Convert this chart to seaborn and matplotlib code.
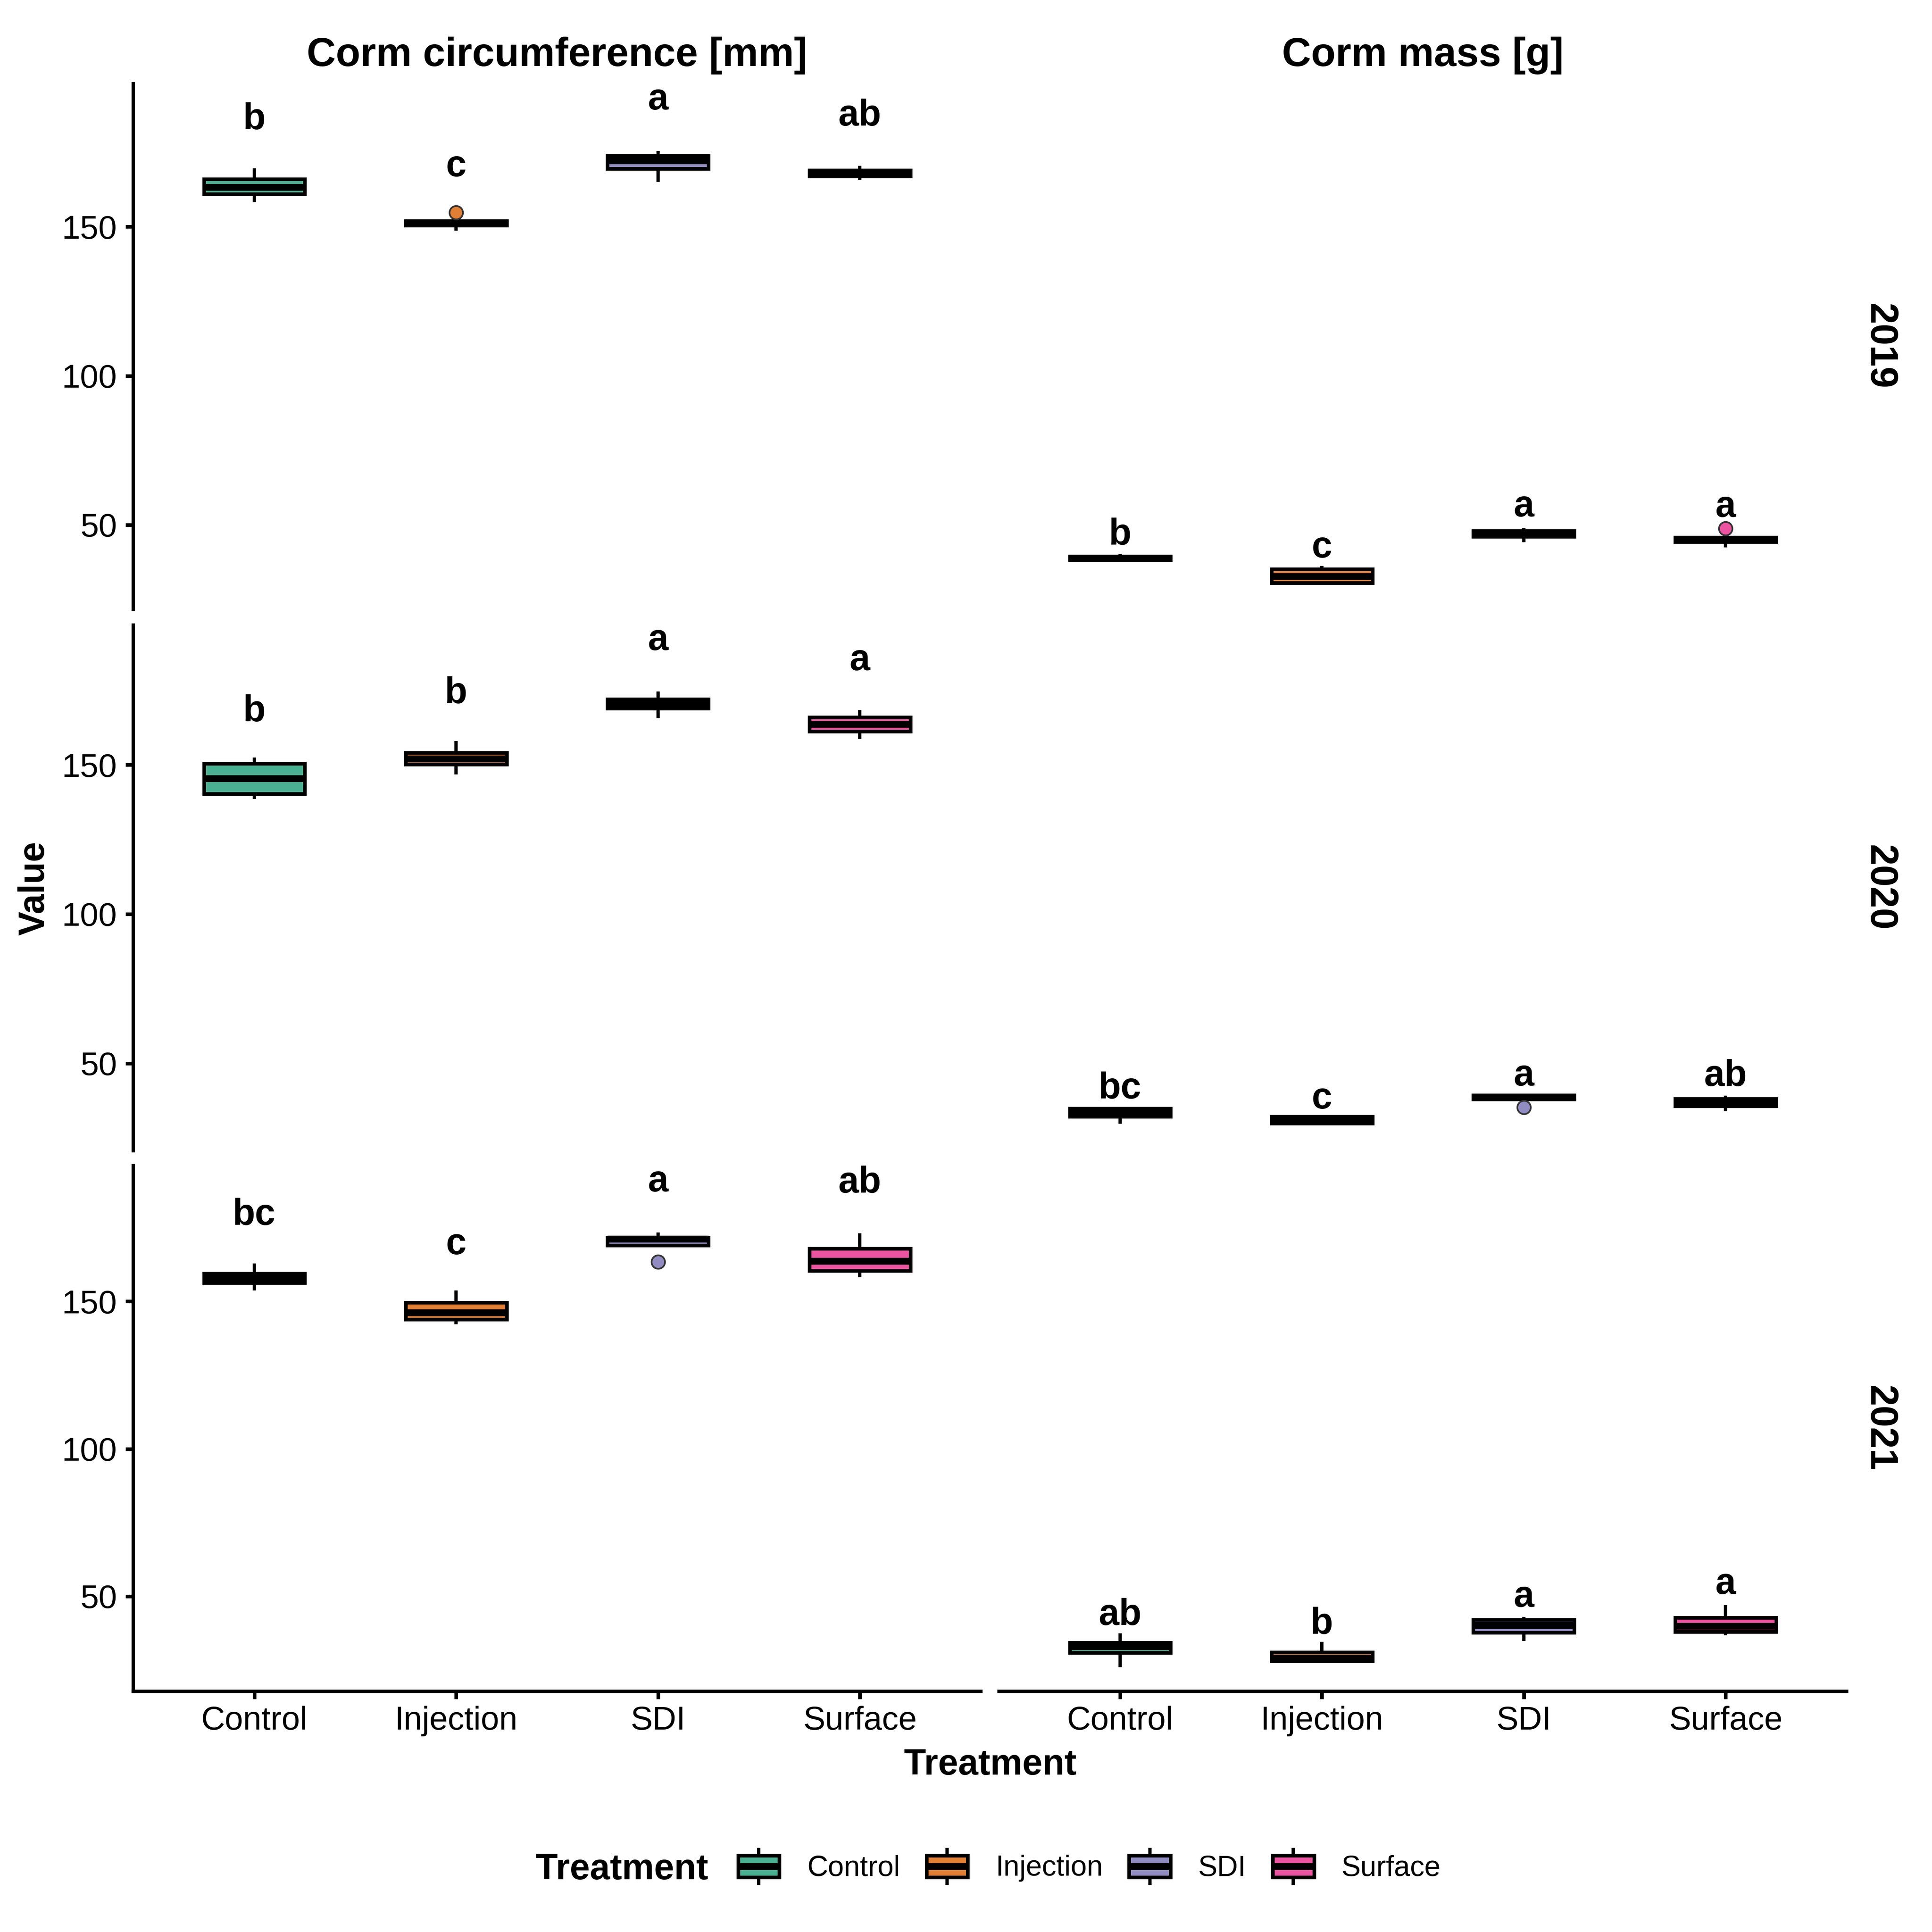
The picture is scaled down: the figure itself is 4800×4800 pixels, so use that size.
import numpy as np
import pandas as pd
import matplotlib
matplotlib.use("Agg")
import matplotlib.pyplot as plt
import matplotlib.colors as mcolors
import seaborn as sns
from matplotlib.legend_handler import HandlerBase
from matplotlib.patches import Rectangle, Patch
from matplotlib.lines import Line2D

# ---------------- data ----------------
treatments = ["Control", "Injection", "SDI", "Surface"]
years = ["2019", "2020", "2021"]
variables = ["Corm circumference [mm]", "Corm mass [g]"]
base_colors = ["#1B9E77", "#D95F02", "#7570B3", "#E7298A"]

# replicate observations per treatment (order as in `treatments`)
circ_2019 = [
    [158.3, 161.0, 163.3, 166.0, 169.6],
    [148.7, 150.0, 150.4, 150.9, 151.2, 151.6, 151.9, 152.1, 154.8],
    [165.1, 169.5, 172.2, 174.0, 175.5],
    [165.7, 167.0, 168.0, 169.0, 170.5],
]
mass_2019 = [
    [37.9, 38.2, 38.8, 39.4, 40.2],
    [30.3, 30.5, 32.7, 35.1, 36.2],
    [44.2, 46.0, 47.0, 47.9, 48.9],
    [42.4, 43.8, 44.3, 44.7, 45.0, 45.4, 45.8, 46.1, 48.8],
]
circ_2020 = [
    [138.6, 140.3, 145.4, 150.4, 152.5],
    [146.8, 150.2, 152.1, 154.1, 157.9],
    [165.6, 168.9, 170.5, 172.0, 174.5],
    [158.6, 161.2, 163.6, 165.9, 168.3],
]
mass_2020 = [
    [29.7, 32.2, 33.5, 34.9, 35.1],
    [29.7, 29.9, 31.0, 32.2, 32.4],
    [35.2, 37.9, 38.0, 38.3, 38.6, 38.9, 39.3, 39.4, 39.5],
    [33.9, 35.7, 36.9, 38.1, 39.2],
]
circ_2021 = [
    [153.7, 156.4, 157.9, 159.5, 162.85],
    [142.3, 143.9, 146.3, 149.6, 153.8],
    [163.5, 168.8, 169.0, 170.2, 171.2, 171.4, 171.7, 172.5, 173.4],
    [158.2, 160.5, 163.7, 167.9, 173.1],
]
mass_2021 = [
    [25.85, 30.8, 32.85, 34.25, 37.4],
    [27.7, 27.9, 28.9, 31.0, 34.5],
    [34.8, 37.6, 40.05, 41.95, 43.0],
    [36.75, 37.95, 39.85, 42.7, 46.95],
]

# compact letter display and its vertical position (baseline)
letters_circ_2019 = ["b", "c", "a", "ab"]
letter_y_circ_2019 = [182.8, 166.9, 189.3, 183.9]
letters_mass_2019 = ["b", "c", "a", "a"]
letter_y_mass_2019 = [43.4, 39.0, 52.8, 52.7]
letters_circ_2020 = ["b", "b", "a", "a"]
letter_y_circ_2020 = [164.6, 170.6, 188.4, 181.7]
letters_mass_2020 = ["bc", "c", "a", "ab"]
letter_y_mass_2020 = [38.2, 34.9, 42.5, 42.4]
letters_circ_2021 = ["bc", "c", "a", "ab"]
letter_y_circ_2021 = [176.0, 166.1, 187.4, 187.0]
letters_mass_2021 = ["ab", "b", "a", "a"]
letter_y_mass_2021 = [40.3, 37.25, 46.35, 50.8]

y_limits = [(21.6, 198.0), (20.7, 196.8), (17.7, 196.1)]
y_ticks = [50, 100, 150]

panel_values = {
    ("Corm circumference [mm]", "2019"): circ_2019,
    ("Corm mass [g]", "2019"): mass_2019,
    ("Corm circumference [mm]", "2020"): circ_2020,
    ("Corm mass [g]", "2020"): mass_2020,
    ("Corm circumference [mm]", "2021"): circ_2021,
    ("Corm mass [g]", "2021"): mass_2021,
}
panel_letters = {
    ("Corm circumference [mm]", "2019"): (letters_circ_2019, letter_y_circ_2019),
    ("Corm mass [g]", "2019"): (letters_mass_2019, letter_y_mass_2019),
    ("Corm circumference [mm]", "2020"): (letters_circ_2020, letter_y_circ_2020),
    ("Corm mass [g]", "2020"): (letters_mass_2020, letter_y_mass_2020),
    ("Corm circumference [mm]", "2021"): (letters_circ_2021, letter_y_circ_2021),
    ("Corm mass [g]", "2021"): (letters_mass_2021, letter_y_mass_2021),
}

records = []
for (var, yr), groups in panel_values.items():
    for t, vals in zip(treatments, groups):
        for v in vals:
            records.append({"Variable": var, "Year": yr, "Treatment": t, "Value": v})
df = pd.DataFrame(records)

# fill colours: Dark2 at alpha 0.8 over white
def blend(c, a=0.8):
    r, g, b = mcolors.to_rgb(c)
    return (a * r + (1 - a), a * g + (1 - a), a * b + (1 - a))

fills = [blend(c) for c in base_colors]
palette = dict(zip(treatments, fills))

# ---------------- style ----------------
sns.set_style("white")
plt.rcParams["font.family"] = ["Liberation Sans", "DejaVu Sans"]
plt.rcParams["text.color"] = "black"

BOX_LW = 2.16
MED_LW = 4.1
WHIS_LW = 2.0
AX_LW = 2.0

W = H = 4800.0
fig = plt.figure(figsize=(16, 16), dpi=300)
fig.patch.set_facecolor("white")

cols = [(331, 2437), (2482, 4588)]
rows = [(208, 1514), (1553, 2859), (2896, 4202)]


def rect(x0, x1, y0, y1):
    return [x0 / W, 1 - y1 / H, (x1 - x0) / W, (y1 - y0) / H]


for r, yr in enumerate(years):
    for c, var in enumerate(variables):
        ax = fig.add_axes(rect(cols[c][0], cols[c][1], rows[r][0], rows[r][1]))
        sub = df[(df.Variable == var) & (df.Year == yr)]
        sns.boxplot(
            data=sub, x="Treatment", y="Value", hue="Treatment",
            order=treatments, hue_order=treatments, palette=palette,
            width=0.5, saturation=1, linecolor="black", linewidth=BOX_LW,
            showcaps=False, whis=1.5, legend=False, ax=ax,
            medianprops=dict(color="black", linewidth=MED_LW, solid_capstyle="butt"),
            whiskerprops=dict(color="black", linewidth=WHIS_LW, solid_capstyle="butt"),
            flierprops=dict(marker="o", markersize=8, markeredgecolor="#333333",
                            markeredgewidth=1.0),
        )
        for cont in ax.containers:
            if not hasattr(cont, "medians"):
                continue
            for b in cont.boxes:
                b.set_edgecolor("black")
                b.set_linewidth(BOX_LW)
            for m in cont.medians:
                m.set_color("black")
                m.set_linewidth(MED_LW)
                m.set_solid_capstyle("butt")
            for w in cont.whiskers:
                w.set_color("black")
                w.set_linewidth(WHIS_LW)
            for f in cont.fliers:
                xd = np.asarray(f.get_xdata(), dtype=float)
                if xd.size == 0:
                    continue
                idx = int(np.clip(np.round(xd.mean()), 0, 3))
                f.set_fillstyle("full")
                f.set_markerfacecolor(fills[idx])
                f.set_markeredgecolor("#333333")
                f.set_markeredgewidth(1.0)
                f.set_markersize(8)
                f.set_zorder(5)

        labs, ly = panel_letters[(var, yr)]
        for i, (lab, yv) in enumerate(zip(labs, ly)):
            ax.text(i, yv, lab, ha="center", va="baseline", fontsize=22,
                    fontweight="bold", color="black", zorder=6)

        ax.set_xlim(-0.6, 3.6)
        ax.set_ylim(*y_limits[r])
        ax.set_xlabel("")
        ax.set_ylabel("")
        ax.grid(False)
        ax.set_facecolor("white")
        for s in ["top", "right"]:
            ax.spines[s].set_visible(False)
        ax.spines["left"].set_visible(c == 0)
        ax.spines["bottom"].set_visible(r == 2)
        for s in ["left", "bottom"]:
            ax.spines[s].set_linewidth(AX_LW)
            ax.spines[s].set_color("black")
        if c == 0:
            ax.set_yticks(y_ticks)
            ax.set_yticklabels([str(t) for t in y_ticks])
            ax.tick_params(axis="y", length=4.6, width=BOX_LW, labelsize=19.7,
                           pad=5, colors="black", left=True)
        else:
            ax.set_yticks([])
            ax.tick_params(axis="y", left=False, labelleft=False)
        if r == 2:
            ax.set_xticks(range(len(treatments)))
            ax.set_xticklabels(treatments)
            ax.tick_params(axis="x", length=4.6, width=BOX_LW, labelsize=19.7,
                           pad=4, colors="black", bottom=True)
        else:
            ax.set_xticks([])
            ax.tick_params(axis="x", bottom=False, labelbottom=False)

# column titles
for c, var in enumerate(variables):
    xc = (cols[c][0] + cols[c][1]) / 2 / W
    fig.text(xc, 1 - 138 / H, var, ha="center", va="center", fontsize=24,
             fontweight="bold", color="black")

# row strips
for r, yr in enumerate(years):
    yc = (rows[r][0] + rows[r][1]) / 2
    fig.text(4670 / W, 1 - yc / H, yr, ha="center", va="center", rotation=270,
             fontsize=23, fontweight="bold", color="black")

# axis titles
fig.text(86 / W, 1 - 2207 / H, "Value", ha="center", va="center", rotation=90,
         fontsize=21.5, fontweight="bold", color="black")
fig.text(2460 / W, 1 - 4409 / H, "Treatment", ha="center", va="baseline",
         fontsize=21.5, fontweight="bold", color="black")


# legend
class BoxKeyHandler(HandlerBase):
    def create_artists(self, legend, orig_handle, xdescent, ydescent,
                       width, height, fontsize, trans):
        x0, y0 = -xdescent, -ydescent
        xc = x0 + width / 2
        yc = y0 + height / 2
        whisk = Line2D([xc, xc], [y0, y0 + height], color="black",
                       linewidth=WHIS_LW, solid_capstyle="butt", transform=trans)
        inset = 1.1
        box = Rectangle((x0 + inset, y0 + height * 0.2), width - 2 * inset,
                        height * 0.6, facecolor=orig_handle.get_facecolor(),
                        edgecolor="black", linewidth=BOX_LW, transform=trans)
        med = Line2D([x0 + inset, x0 + width - inset], [yc, yc], color="black",
                     linewidth=MED_LW, solid_capstyle="butt", transform=trans)
        return [whisk, box, med]


handles = [Patch(facecolor=f, edgecolor="black") for f in fills]
fs = 17.2
fs_px = fs * 300 / 72
leg = fig.legend(
    handles, treatments, loc="center left",
    bbox_to_anchor=(1829 / W, 1 - 4637 / H), ncol=4, frameon=False,
    fontsize=fs, handlelength=112 / fs_px, handleheight=114 / fs_px,
    handletextpad=64 / fs_px, columnspacing=61 / fs_px, borderpad=0,
    borderaxespad=0,
    handler_map={Patch: BoxKeyHandler()},
)
for t in leg.get_texts():
    t.set_color("black")
fig.text(1331 / W, 1 - 4669 / H, "Treatment", ha="left", va="baseline",
         fontsize=21.5, fontweight="bold", color="black")

fig.savefig("out.png", dpi=300, facecolor="white")
